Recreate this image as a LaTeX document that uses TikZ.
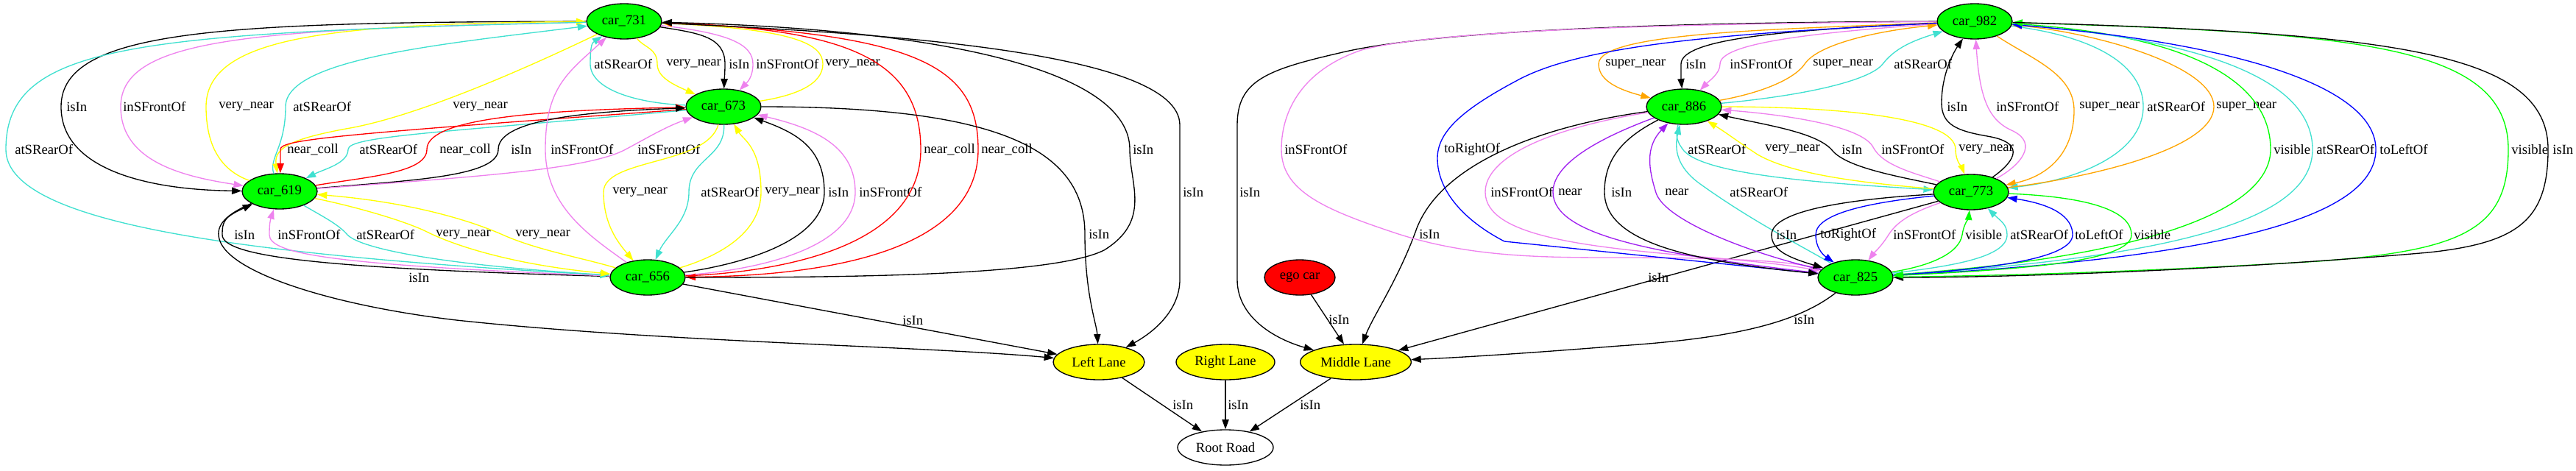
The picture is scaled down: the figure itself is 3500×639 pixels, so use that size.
\documentclass[tikz,border=0pt]{standalone}
\usepackage{fontspec}
\setmainfont{Liberation Serif}
\usetikzlibrary{shapes.geometric,arrows.meta}
\definecolor{cTq}{HTML}{40E0D0}
\definecolor{cVi}{HTML}{EE82EE}
\definecolor{cYe}{HTML}{FFFF00}
\definecolor{cRd}{HTML}{FF0000}
\definecolor{cOr}{HTML}{FFA500}
\definecolor{cBl}{HTML}{0000FF}
\definecolor{cPu}{HTML}{A020F0}
\definecolor{cGr}{HTML}{00FF00}
\begin{document}
\begin{tikzpicture}[x=0.75pt,y=-0.75pt,
  every node/.style={font=\fontsize{14}{16}\selectfont},
  gvnode/.style={ellipse,draw=black,line width=1pt,minimum height=36pt,inner sep=0pt},
  car/.style={gvnode,fill=cGr,minimum width=76.5pt},
  lane/.style={gvnode,fill=cYe},
  lbl/.style={anchor=west,inner sep=0pt},
  fw/.style={line width=1pt,-{Triangle[length=10pt,width=7pt]}},
  bw/.style={line width=1pt,{Triangle[length=10pt,width=7pt]}-}]
\useasboundingbox (0,0) rectangle (3500,639);
% nodes
\node[car] (a731) at (848,29) {car\_731};
\node[car] (b673) at (983,145) {car\_673};
\node[car] (c619) at (380,260) {car\_619};
\node[car] (d656) at (880,377) {car\_656};
\node[lane,minimum width=93pt] (ll) at (1493,492) {Left Lane};
\node[lane,minimum width=100.5pt] (rl) at (1665,492) {Right Lane};
\node[lane,minimum width=113pt] (ml) at (1842,492) {Middle Lane};
\node[gvnode,minimum width=97.5pt] (rr) at (1665,608) {Root Road};
\node[gvnode,fill=cRd,minimum width=72pt] (ego) at (1766,377) {ego car};
\node[car] (e982) at (2683,29) {car\_982};
\node[car] (f886) at (2288,145) {car\_886};
\node[car] (g773) at (2678,261) {car\_773};
\node[car] (h825) at (2521,377) {car\_825};
% ---- left cluster: 731-673
\draw[bw,cTq] (a731) .. controls (805,58) and (802,60) .. (802,87) .. controls (802,120) and (860,140) .. (b673);
\node[lbl] (t1) at (807,87) {atSRearOf};
\draw[fw,cYe] (a731) .. controls (875,65) and (893,65) .. (893,87) .. controls (893,105) and (915,115) .. (b673);
\node[lbl] (t2) at (905,87) {very\_near};
\draw[fw] (a731) .. controls (950,45) and (985,50) .. (985,87) .. controls (985,100) and (984,110) .. (b673);
\node[lbl] (t3) at (990,87) {isIn};
\draw[fw,cVi] (a731) .. controls (990,45) and (1023,60) .. (1023,87) .. controls (1023,105) and (1015,112) .. (b673);
\node[lbl] (t4) at (1027,87) {inSFrontOf};
\draw[bw,cYe] (a731) .. controls (1080,40) and (1118,60) .. (1118,87) .. controls (1118,115) and (1080,130) .. (b673);
\node[lbl] (t5) at (1121,87) {very\_near};
% 731-619
\draw[fw] (a731) .. controls (300,30) and (83,40) .. (83,145) .. controls (83,230) and (200,258) .. (c619);
\node[lbl] (t6) at (90,145) {isIn};
\draw[fw,cVi] (a731) .. controls (350,40) and (164,50) .. (164,145) .. controls (164,220) and (250,240) .. (c619);
\node[lbl] (t7) at (167,145) {inSFrontOf};
\draw[bw,cYe] (a731) .. controls (450,32) and (280,50) .. (280,145) .. controls (280,210) and (310,235) .. (c619);
\node[lbl] (t8) at (297,145) {very\_near};
\draw[bw,cTq] (a731) .. controls (600,60) and (388,80) .. (388,145) .. controls (388,200) and (365,215) .. (c619);
\node[lbl] (t9) at (398,145) {atSRearOf};
\draw[fw,cYe] (a731) .. controls (700,100) and (560,160) .. (470,175) .. controls (400,188) and (372,200) .. (c619);
\node[lbl] (t10) at (615,145) {very\_near};
% 619-673
\draw[bw,cRd] (c619) .. controls (381,225) and (381,215) .. (381,203) .. controls (381,190) and (450,183) .. (b673);
\node[lbl] (t11) at (390,203) {near\_coll};
\draw[bw,cTq] (c619) .. controls (440,230) and (473,222) .. (473,203) .. controls (473,185) and (600,180) .. (b673);
\node[lbl] (t12) at (488,203) {atSRearOf};
\draw[fw,cRd] (c619) .. controls (500,240) and (580,235) .. (580,203) .. controls (580,165) and (700,150) .. (b673);
\node[lbl] (t13) at (597,203) {near\_coll};
\draw[fw] (c619) .. controls (560,245) and (677,240) .. (677,203) .. controls (677,165) and (780,152) .. (b673);
\node[lbl] (t14) at (694,203) {isIn};
\draw[fw,cVi] (c619) .. controls (650,240) and (800,230) .. (850,203) .. controls (880,187) and (905,172) .. (b673);
\node[lbl] (t15) at (866,203) {inSFrontOf};
% 656-731
\draw[bw,cVi] (a731) .. controls (770,100) and (741,120) .. (741,203) .. controls (741,280) and (800,320) .. (d656);
\node[lbl] (t16) at (748,203) {inSFrontOf};
% 673-656
\draw[fw,cYe] (b673) .. controls (960,225) and (820,215) .. (820,261) .. controls (820,305) and (840,330) .. (d656);
\node[lbl] (t17) at (832,261) {very\_near};
\draw[fw,cTq] (b673) .. controls (985,215) and (936,215) .. (936,261) .. controls (936,300) and (905,320) .. (d656);
\node[lbl] (t18) at (952,261) {atSRearOf};
\draw[bw,cYe] (b673) .. controls (1010,190) and (1034,200) .. (1034,261) .. controls (1034,320) and (970,350) .. (d656);
\node[lbl] (t19) at (1039,261) {very\_near};
\draw[bw] (b673) .. controls (1080,180) and (1120,200) .. (1120,261) .. controls (1120,330) and (1000,360) .. (d656);
\node[lbl] (t20) at (1125,261) {isIn};
\draw[bw,cVi] (b673) .. controls (1110,175) and (1162,200) .. (1162,261) .. controls (1162,340) and (1020,368) .. (d656);
\node[lbl] (t21) at (1167,261) {inSFrontOf};
% 731-656
\draw[bw,cRd] (a731) .. controls (1150,40) and (1251,80) .. (1251,203) .. controls (1251,340) and (1050,370) .. (d656);
\node[lbl] (t22) at (1255,203) {near\_coll};
\draw[fw,cRd] (a731) .. controls (1250,45) and (1329,90) .. (1329,203) .. controls (1329,355) and (1080,375) .. (d656);
\node[lbl] (t23) at (1333,203) {near\_coll};
\draw[bw] (a731) .. controls (1300,40) and (1535,100) .. (1535,203) .. controls (1535,250) and (1565,300) .. (1500,340) .. controls (1430,375) and (1150,377) .. (d656);
\node[lbl] (t24) at (1539,203) {isIn};
\draw[fw,cTq] (a731) .. controls (180,45) and (8,60) .. (8,203) .. controls (8,300) and (300,345) .. (d656);
\node[lbl] (t25) at (20,203) {atSRearOf};
% 619-656
\draw[bw] (c619) .. controls (305,295) and (302,300) .. (302,319) .. controls (302,350) and (450,365) .. (d656);
\node[lbl] (t26) at (318,319) {isIn};
\draw[bw,cVi] (c619) .. controls (367,300) and (366,305) .. (366,319) .. controls (366,345) and (450,360) .. (d656);
\node[lbl] (t27) at (377,319) {inSFrontOf};
\draw[fw,cTq] (c619) .. controls (440,295) and (460,305) .. (472,319) .. controls (490,338) and (600,360) .. (d656);
\node[lbl] (t28) at (484,319) {atSRearOf};
\draw[fw,cYe] (c619) .. controls (480,280) and (550,300) .. (580,315) .. controls (620,335) and (700,360) .. (d656);
\node[lbl] (t29) at (592,319) {very\_near};
\draw[bw,cYe] (c619) .. controls (560,275) and (640,300) .. (683,319) .. controls (730,340) and (790,350) .. (d656);
\node[lbl] (t30) at (700,319) {very\_near};
% to Left Lane
\draw[fw] (c619) .. controls (310,290) and (292,305) .. (298,325) .. controls (310,370) and (450,415) .. (620,435) .. controls (900,465) and (1250,470) .. (ll);
\node[lbl] (t31) at (555,377) {isIn};
\draw[fw] (d656) -- (ll);
\node[lbl] (t32) at (1226,435) {isIn};
\draw[fw] (b673) .. controls (1350,145) and (1474,200) .. (1474,318) .. controls (1474,400) and (1490,440) .. (ll);
\node[lbl] (t33) at (1479,318) {isIn};
\draw[fw] (a731) .. controls (1200,45) and (1603,70) .. (1603,170) -- (1603,380) .. controls (1603,420) and (1570,450) .. (ll);
\node[lbl] (t34) at (1607,261) {isIn};
% lanes to root
\draw[fw] (ll) -- (rr);
\node[lbl] (t35) at (1593,550) {isIn};
\draw[fw] (rl) -- (rr);
\node[lbl] (t36) at (1668,550) {isIn};
\draw[fw] (ml) -- (rr);
\node[lbl] (t37) at (1766,550) {isIn};
\draw[fw] (ego) -- (ml);
\node[lbl] (t38) at (1805,434) {isIn};
% ---- right cluster: to Middle Lane
\draw[fw] (e982) .. controls (2300,30) and (1950,40) .. (1820,72) .. controls (1720,95) and (1681,110) .. (1681,170) -- (1681,380) .. controls (1681,430) and (1730,460) .. (ml);
\node[lbl] (t39) at (1684,261) {isIn};
\draw[fw] (f886) .. controls (2100,170) and (1960,220) .. (1925,310) .. controls (1900,380) and (1865,430) .. (ml);
\node[lbl] (t40) at (1928,318) {isIn};
\draw[fw] (g773) -- (ml);
\node[lbl] (t41) at (2239,377) {isIn};
\draw[fw] (h825) .. controls (2440,440) and (2350,460) .. (2200,470) .. controls (2100,478) and (2000,485) .. (ml);
\node[lbl] (t42) at (2437,434) {isIn};
% 982-886
\draw[fw,cOr] (e982) .. controls (2400,40) and (2172,45) .. (2172,87) .. controls (2172,110) and (2200,122) .. (f886);
\node[lbl] (t43) at (2181,87) {super\_near};
\draw[fw] (e982) .. controls (2450,40) and (2284,50) .. (2284,87) .. controls (2284,100) and (2284,108) .. (f886);
\node[lbl] (t44) at (2290,87) {isIn};
\draw[fw,cVi] (e982) .. controls (2450,45) and (2337,60) .. (2337,87) .. controls (2337,100) and (2322,110) .. (f886);
\node[lbl] (t45) at (2350,87) {inSFrontOf};
\draw[fw,cOr] (f886) .. controls (2400,125) and (2440,105) .. (2452,87) .. controls (2470,60) and (2550,42) .. (e982);
\node[lbl] (t46) at (2463,87) {super\_near};
\draw[fw,cTq] (f886) .. controls (2450,130) and (2540,110) .. (2558,87) .. controls (2575,65) and (2600,55) .. (e982);
\node[lbl] (t47) at (2573,87) {atSRearOf};
% 982-773
\draw[fw] (g773) .. controls (2730,225) and (2760,195) .. (2700,185) .. controls (2660,178) and (2638,170) .. (2638,140) .. controls (2638,100) and (2655,70) .. (e982);
\node[lbl] (t48) at (2645,145) {isIn};
\draw[fw,cVi] (g773) .. controls (2745,225) and (2770,195) .. (2735,178) .. controls (2705,165) and (2690,140) .. (e982);
\node[lbl] (t49) at (2712,145) {inSFrontOf};
\draw[fw,cOr] (e982) .. controls (2760,80) and (2818,100) .. (2818,150) .. controls (2818,210) and (2780,240) .. (g773);
\node[lbl] (t50) at (2825,145) {super\_near};
\draw[fw,cTq] (e982) .. controls (2850,50) and (2912,90) .. (2912,145) .. controls (2912,210) and (2820,245) .. (g773);
\node[lbl] (t51) at (2917,145) {atSRearOf};
\draw[fw,cOr] (g773) .. controls (2850,240) and (3008,200) .. (3008,145) .. controls (3008,90) and (2850,45) .. (e982);
\node[lbl] (t52) at (3011,145) {super\_near};
% 982-825
\draw[fw,cVi] (e982) .. controls (2300,32) and (1950,40) .. (1850,68) .. controls (1770,95) and (1741,150) .. (1741,203) .. controls (1741,260) and (1800,285) .. (1900,318) .. controls (2000,350) and (2100,350) .. (2200,350) .. controls (2350,350) and (2430,355) .. (h825);
\node[lbl] (t53) at (1745,203) {inSFrontOf};
\draw[fw,cBl] (e982) .. controls (2350,45) and (2150,60) .. (2060,110) .. controls (1985,150) and (1953,180) .. (1953,215) .. controls (1953,260) and (1990,300) .. (2044,328) -- (h825);
\node[lbl] (t54) at (1962,203) {toRightOf};
\draw[fw,cGr] (e982) .. controls (2950,45) and (3085,100) .. (3085,203) .. controls (3085,290) and (2900,350) .. (h825);
\node[lbl] (t55) at (3089,203) {visible};
\draw[bw,cTq] (e982) .. controls (3000,55) and (3142,110) .. (3142,203) .. controls (3142,300) and (2950,350) .. (h825);
\node[lbl] (t56) at (3147,203) {atSRearOf};
\draw[bw,cBl] (e982) .. controls (3050,60) and (3228,120) .. (3228,203) .. controls (3228,300) and (3000,352) .. (h825);
\node[lbl] (t57) at (3233,203) {toLeftOf};
\draw[bw,cGr] (e982) .. controls (3200,45) and (3408,60) .. (3408,203) .. controls (3408,310) and (3350,340) .. (3150,355) .. controls (2900,370) and (2700,375) .. (h825);
\node[lbl] (t58) at (3412,203) {visible};
\draw[fw] (e982) .. controls (3250,45) and (3462,70) .. (3462,203) .. controls (3462,300) and (3420,330) .. (3300,343) .. controls (3050,365) and (2750,377) .. (h825);
\node[lbl] (t59) at (3468,203) {isIn};
% 886-773
\draw[fw,cTq] (f886) .. controls (2275,185) and (2280,195) .. (2288,205) .. controls (2320,240) and (2500,250) .. (g773);
\node[lbl] (t60) at (2293,203) {atSRearOf};
\draw[bw,cYe] (f886) .. controls (2345,180) and (2365,195) .. (2388,210) .. controls (2440,240) and (2550,250) .. (g773);
\node[lbl] (t61) at (2398,203) {very\_near};
\draw[bw] (f886) .. controls (2400,170) and (2470,180) .. (2490,205) .. controls (2510,228) and (2580,240) .. (g773);
\node[lbl] (t62) at (2502,203) {isIn};
\draw[bw,cVi] (f886) .. controls (2450,158) and (2532,175) .. (2545,200) .. controls (2558,225) and (2600,235) .. (g773);
\node[lbl] (t63) at (2556,203) {inSFrontOf};
\draw[fw,cYe] (f886) .. controls (2500,145) and (2657,160) .. (2657,203) .. controls (2657,220) and (2666,228) .. (g773);
\node[lbl] (t64) at (2661,203) {very\_near};
% 886-825
\draw[fw,cVi] (f886) .. controls (2100,175) and (2018,215) .. (2018,261) .. controls (2018,320) and (2150,335) .. (2300,348) .. controls (2400,356) and (2440,362) .. (h825);
\node[lbl] (t65) at (2025,261) {inSFrontOf};
\draw[fw,cPu] (f886) .. controls (2180,185) and (2110,220) .. (2110,261) .. controls (2110,320) and (2250,345) .. (h825);
\node[lbl] (t66) at (2117,261) {near};
\draw[fw] (f886) .. controls (2200,190) and (2180,220) .. (2180,261) .. controls (2180,330) and (2300,355) .. (h825);
\node[lbl] (t67) at (2189,261) {isIn};
\draw[bw,cPu] (f886) .. controls (2235,200) and (2240,230) .. (2250,262) .. controls (2262,300) and (2380,345) .. (h825);
\node[lbl] (t68) at (2262,261) {near};
\draw[bw,cTq] (f886) .. controls (2273,210) and (2285,232) .. (2310,250) .. controls (2380,300) and (2440,330) .. (h825);
\node[lbl] (t69) at (2350,261) {atSRearOf};
% 773-825
\draw[fw] (g773) .. controls (2520,270) and (2407,285) .. (2407,319) .. controls (2407,340) and (2430,350) .. (h825);
\node[lbl] (t70) at (2413,319) {isIn};
\draw[fw,cBl] (g773) .. controls (2540,275) and (2467,290) .. (2467,319) .. controls (2467,335) and (2475,345) .. (h825);
\node[lbl] (t71) at (2473,319) {toRightOf};
\draw[fw,cVi] (g773) .. controls (2600,288) and (2578,300) .. (2566,319) .. controls (2556,335) and (2545,345) .. (h825);
\node[lbl] (t72) at (2572,319) {inSFrontOf};
\draw[bw,cGr] (g773) .. controls (2675,295) and (2668,305) .. (2666,319) .. controls (2662,345) and (2620,362) .. (h825);
\node[lbl] (t73) at (2670,319) {visible};
\draw[bw,cTq] (g773) .. controls (2718,300) and (2727,305) .. (2727,319) .. controls (2727,350) and (2650,362) .. (h825);
\node[lbl] (t74) at (2731,319) {atSRearOf};
\draw[bw,cBl] (g773) .. controls (2790,278) and (2816,295) .. (2816,319) .. controls (2816,352) and (2700,366) .. (h825);
\node[lbl] (t75) at (2819,319) {toLeftOf};
\draw[fw,cGr] (g773) .. controls (2850,268) and (2896,290) .. (2896,319) .. controls (2896,355) and (2750,366) .. (h825);
\node[lbl] (t76) at (2899,319) {visible};
\end{tikzpicture}
\end{document}
